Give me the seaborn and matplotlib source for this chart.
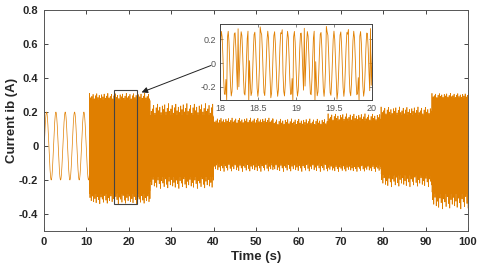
import numpy as np
import pandas as pd
import matplotlib
matplotlib.use("Agg")
import matplotlib.pyplot as plt
import seaborn as sns
from matplotlib.patches import Rectangle

# ---- data ----
# low-frequency start (0 .. 10.7 s)
start_end = 10.7
start_amp = 0.2
start_period = 2.2
start_peak = 0.6
# dense segments: boundaries (s), envelopes (A), spike extremes (A)
seg_start = [10.7, 25.0, 40.0, 54.0, 67.0, 79.5, 91.5]
seg_end = [25.0, 40.0, 54.0, 67.0, 79.5, 91.5, 100.0]
seg_upper = [0.27, 0.18, 0.13, 0.12, 0.145, 0.18, 0.28]
seg_lower = [-0.28, -0.18, -0.10, -0.10, -0.11, -0.17, -0.28]
seg_spike_up = [0.31, 0.25, 0.165, 0.16, 0.19, 0.23, 0.31]
seg_spike_dn = [-0.34, -0.25, -0.15, -0.15, -0.15, -0.24, -0.37]
spike_pattern = [1.0, 0.35, 0.55, 0.85, 0.2, 0.65, 0.95, 0.4, 0.7, 0.25, 0.8, 0.5, 0.9, 0.3, 0.6]
carrier_hz = 11.5
fs = 100.0

x_ticks = [0, 10, 20, 30, 40, 50, 60, 70, 80, 90, 100]
y_ticks = [-0.4, -0.2, 0, 0.2, 0.4, 0.6, 0.8]
y_labels = ["-0.4", "-0.2", "0", "0.2", "0.4", "0.6", "0.8"]
inset_x_ticks = [18, 18.5, 19, 19.5, 20]
inset_y_ticks = [-0.2, 0, 0.2]
inset_y_labels = ["-0.2", "0", "0.2"]

# ---- build the waveform from the arrays above ----
t = np.arange(0, 100.0 + 1e-9, 1.0 / fs)
y = np.zeros_like(t)
m0 = t < start_end
y[m0] = start_amp * np.cos(2 * np.pi * (t[m0] - start_peak) / start_period)
spike_every = 29
for i in range(len(seg_start)):
    m = (t >= seg_start[i]) & (t < seg_end[i] + (1e-9 if i == len(seg_start) - 1 else 0))
    idx = np.where(m)[0]
    up, lo = seg_upper[i], seg_lower[i]
    y[idx] = lo + (up - lo) * (0.5 + 0.5 * np.sin(2 * np.pi * carrier_hz * t[idx]))
    for j, k in enumerate(idx[::spike_every]):
        p = spike_pattern[j % len(spike_pattern)]
        y[k] = up + (seg_spike_up[i] - up) * p
        k2 = min(k + spike_every // 2, idx[-1])
        p2 = spike_pattern[(j + 7) % len(spike_pattern)]
        y[k2] = lo + (seg_spike_dn[i] - lo) * p2
df = pd.DataFrame({"t": t, "ib": y})

# ---- plot ----
sns.set_theme(style="ticks")
plt.rcParams["font.family"] = ["Liberation Sans", "DejaVu Sans"]
color = "#E07F00"

fig = plt.figure(figsize=(4.8, 2.73), dpi=100)
ax = fig.add_axes([0.0917, 0.154, 0.8833, 0.809])
sns.lineplot(data=df, x="t", y="ib", ax=ax, color=color, lw=0.5,
             estimator=None, sort=False)
ax.set_xlim(0, 100)
ax.set_ylim(-0.5, 0.8)
ax.set_xticks(x_ticks)
ax.set_xticklabels([str(v) for v in x_ticks])
ax.set_yticks(y_ticks)
ax.set_yticklabels(y_labels)
ax.tick_params(direction="in", length=3, width=0.6, top=True, right=True,
               labelsize=8, colors="#262626", pad=4)
for lab in ax.get_xticklabels() + ax.get_yticklabels():
    lab.set_fontweight("bold")
ax.set_xlabel("Time (s)", fontsize=9.5, fontweight="bold", color="#262626", labelpad=3)
ax.set_ylabel("Current ib (A)", fontsize=9.5, fontweight="bold", color="#262626", labelpad=1)
for s in ax.spines.values():
    s.set_color("#555555")
    s.set_linewidth(0.7)

ax.add_patch(Rectangle((16.5, -0.34), 5.4, 0.67, fill=False, ec="#444444", lw=0.8, zorder=5))
ax.annotate("", xy=(22.4, 0.31), xytext=(40.0, 0.48),
            arrowprops=dict(arrowstyle="-|>", color="#222222", lw=0.7, mutation_scale=9),
            zorder=6)

ins = fig.add_axes([0.458, 0.634, 0.317, 0.278])
sub = df[(df.t >= 17.9) & (df.t <= 20.1)]
sns.lineplot(data=sub, x="t", y="ib", ax=ins, color=color, lw=0.6,
             estimator=None, sort=False)
ins.set_xlim(18, 20)
ins.set_ylim(-0.31, 0.33)
ins.set_xticks(inset_x_ticks)
ins.set_xticklabels(["18", "18.5", "19", "19.5", "20"])
ins.set_yticks(inset_y_ticks)
ins.set_yticklabels(inset_y_labels)
ins.set_xlabel("")
ins.set_ylabel("")
ins.tick_params(direction="in", length=2, width=0.5, top=True, right=True,
                labelsize=6.5, colors="#555555", pad=3)
for s in ins.spines.values():
    s.set_color("#444444")
    s.set_linewidth(0.7)

fig.savefig("out.png", dpi=100)
